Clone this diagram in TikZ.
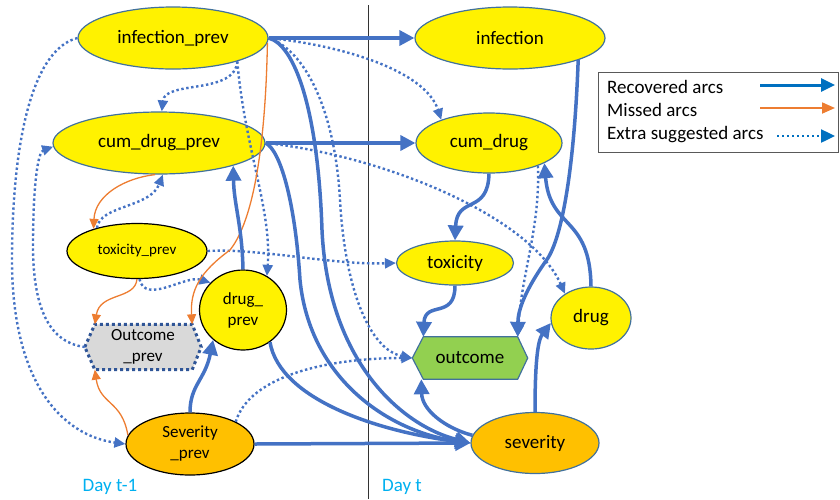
\documentclass[tikz,border=0pt]{standalone}
\usepackage{fontspec}
\setmainfont{Carlito}
\usetikzlibrary{shapes.geometric,arrows.meta,backgrounds}
\definecolor{arcblue}{HTML}{4472C4}
\definecolor{legblue}{HTML}{0070C0}
\definecolor{arcorange}{HTML}{ED7D31}
\definecolor{nodeedge}{HTML}{41719C}
\definecolor{sevorange}{HTML}{FFC000}
\definecolor{outgreen}{HTML}{92D050}
\definecolor{opgray}{HTML}{D9D9D9}
\definecolor{opedge}{HTML}{2F5597}
\definecolor{daycyan}{HTML}{00B0F0}
\tikzset{
  base/.style={ellipse, inner sep=0pt, line width=1.2pt, text=black},
  ynode/.style={base, fill=yellow, draw=nodeedge},
  yknode/.style={base, fill=yellow, draw=black},
  rec/.style={line width=3.5pt, arcblue, -{Triangle[length=15pt,width=15pt]}},
  miss/.style={line width=1.3pt, arcorange, -{Triangle[length=10pt,width=9pt]}},
  ext/.style={line width=2.4pt, arcblue, dash pattern=on 2.4pt off 2.6pt, -{Triangle[length=11pt,width=10pt]}},
  big/.style={font=\fontsize{19}{22}\selectfont},
  mid/.style={font=\fontsize{17}{21}\selectfont},
  small/.style={font=\fontsize{15}{18}\selectfont},
}
\begin{document}
\begin{tikzpicture}[x=1pt,y=-1pt]
\useasboundingbox (0,0) rectangle (840,499);

% day divider
\coordinate (vt) at (368,5);
\coordinate (vb) at (368,499);
\draw[line width=1pt, black!80] (vt) -- (vb);

% nodes
\node[ynode, big, minimum width=190pt, minimum height=62pt] (ip) at (173,38) {infection\_prev};
\node[ynode, big, minimum width=190pt, minimum height=62pt] (inf) at (510,38) {infection};
\node[ynode, big, minimum width=212pt, minimum height=62pt] (cdp) at (159,143) {cum\_drug\_prev};
\node[ynode, big, minimum width=146pt, minimum height=60pt] (cd) at (489,143) {cum\_drug};
\node[yknode, small, minimum width=140pt, minimum height=55pt] (tp) at (137,251) {toxicity\_prev};
\node[ynode, big, minimum width=117pt, minimum height=44pt] (tox) at (455,263) {toxicity};
\node[yknode, mid, align=center, minimum width=87pt, minimum height=80pt] (dp) at (243,310) {drug\_\\prev};
\node[ynode, big, minimum width=80pt, minimum height=62pt] (drug) at (591,318) {drug};
\node[mid, align=center, minimum width=116pt, minimum height=45pt, inner sep=0pt] (op) at (143,347) {Outcome\\\_prev};
\node[big, minimum width=115pt, minimum height=42pt, inner sep=0pt] (out) at (470,358) {outcome};
\node[base, fill=sevorange, draw=black, mid, align=center, minimum width=128pt, minimum height=62pt] (sp) at (190,444) {Severity\\\_prev};
\node[base, fill=sevorange, draw=nodeedge, big, minimum width=128pt, minimum height=61pt] (sev) at (535,443) {severity};

\begin{scope}[on background layer]
\draw[fill=opgray, draw=opedge, line width=3pt, dash pattern=on 3pt off 3pt]
  (op.west) -- ([xshift=10pt]op.north west) -- ([xshift=-9pt]op.north east) -- (op.east)
  -- ([xshift=-9pt]op.south east) -- ([xshift=10pt]op.south west) -- cycle;
\draw[fill=outgreen, draw=nodeedge, line width=1.2pt]
  (out.west) -- ([xshift=11pt]out.north west) -- ([xshift=-10pt]out.north east) -- (out.east)
  -- ([xshift=-10pt]out.south east) -- ([xshift=11pt]out.south west) -- cycle;
\end{scope}

% day labels
\node[big, text=daycyan] (d1) at (110,487) {Day t-1};
\node[big, text=daycyan] (d2) at (402,487) {Day t};

% extra suggested arcs (dotted)
\draw[ext] (ip.west) .. controls (30,50) and (12,150) .. (12,260) .. controls (12,380) and (60,435) .. (sp.west);
\draw[ext] (op.west) .. controls (45,342) and (33,300) .. (33,245) .. controls (33,185) and (38,152) .. (cdp.182);
\draw[ext] (tp.150) .. controls (100,205) and (150,208) .. (cdp.-83);
\draw[ext] (ip.-20) .. controls (235,95) and (165,80) .. (cdp.85);
\draw[ext] (ip.-20) .. controls (245,150) and (272,210) .. (dp.55);
\draw[ext] (ip.east) .. controls (340,45) and (425,70) .. (cd.154);
\draw[ext] (ip.east) .. controls (305,50) and (335,110) .. (340,200) .. controls (345,290) and (370,350) .. (out.west);
\draw[ext] (cdp.east) .. controls (380,155) and (530,215) .. (drug.137);
\draw[ext] (tp.east) .. controls (260,248) and (330,265) .. (tox.west);
\draw[ext] (tp.-85) .. controls (145,305) and (185,275) .. (dp.140);
\draw[ext] (sp.26) .. controls (250,375) and (330,358) .. (out.west);
\draw[ext] (cd.-25) .. controls (540,230) and (522,270) .. ([xshift=-10pt]out.north east);

% missed arcs (orange)
\draw[miss] (ip.-3) .. controls (266,120) and (258,215) .. (230,250) .. controls (200,272) and (190,290) .. ([xshift=-9pt]op.north east);
\draw[miss] (cdp.-97) .. controls (125,178) and (95,195) .. (tp.153);
\draw[miss] (tp.south) .. controls (135,300) and (100,292) .. ([xshift=10pt]op.north west);
\draw[miss] (sp.172) .. controls (122,400) and (100,405) .. ([xshift=10pt]op.south west);

% recovered arcs (solid)
\draw[rec] (ip.east) -- (inf.west);
\draw[rec] (cdp.east) -- (cd.west);
\draw[rec] (ip.east) .. controls (295,45) and (318,110) .. (322,230) .. controls (328,360) and (400,425) .. (sev.west);
\draw[rec] (cdp.east) .. controls (280,150) and (295,200) .. (300,280) .. controls (310,380) and (390,432) .. (sev.west);
\draw[rec] (dp.-50) .. controls (280,400) and (380,432) .. (sev.west);
\draw[rec] (sp.east) -- (sev.west);
\draw[rec] (sev.173) .. controls (445,428) and (422,410) .. ([xshift=9pt]out.south west);
\draw[rec] (sp.north) .. controls (190,385) and (205,380) .. (dp.225);
\draw[rec] (dp.north) .. controls (242,225) and (234,205) .. (cdp.-17);
\draw[rec] (cd.south) .. controls (488,215) and (457,195) .. (tox.north);
\draw[rec] (tox.south) .. controls (455,320) and (425,300) .. ([xshift=11pt]out.north west);
\draw[rec] (inf.-18) .. controls (575,150) and (565,230) .. (548,258) .. controls (525,290) and (518,310) .. ([xshift=-10pt]out.north east);
\draw[rec] (drug.north) .. controls (590,215) and (550,230) .. (cd.-20);
\draw[rec] (sev.north) .. controls (535,360) and (538,340) .. (drug.187);

% legend
\node[draw=black!65, line width=0.8pt, minimum width=240pt, minimum height=80pt, inner sep=0pt] (leg) at (718,112) {};
\node[big, anchor=west, inner sep=0pt] (l1) at (607,87) {Recovered arcs};
\node[big, anchor=west, inner sep=0pt] (l2) at (607,110) {Missed arcs};
\node[big, anchor=west, inner sep=0pt] (l3) at (607,135) {Extra suggested arcs};
\coordinate (a1s) at (760,85);
\coordinate (a1e) at (835,85);
\coordinate (a2s) at (760,108);
\coordinate (a2e) at (835,108);
\coordinate (a3s) at (777,136);
\coordinate (a3e) at (835,136);
\draw[line width=3pt, legblue, -{Triangle[length=14pt,width=13pt]}] (a1s) -- (a1e);
\draw[line width=1.8pt, arcorange, -{Triangle[length=13pt,width=11pt]}] (a2s) -- (a2e);
\draw[line width=2.4pt, legblue, dash pattern=on 2.4pt off 2.6pt, -{Triangle[length=14pt,width=13pt]}] (a3s) -- (a3e);
\end{tikzpicture}
\end{document}
